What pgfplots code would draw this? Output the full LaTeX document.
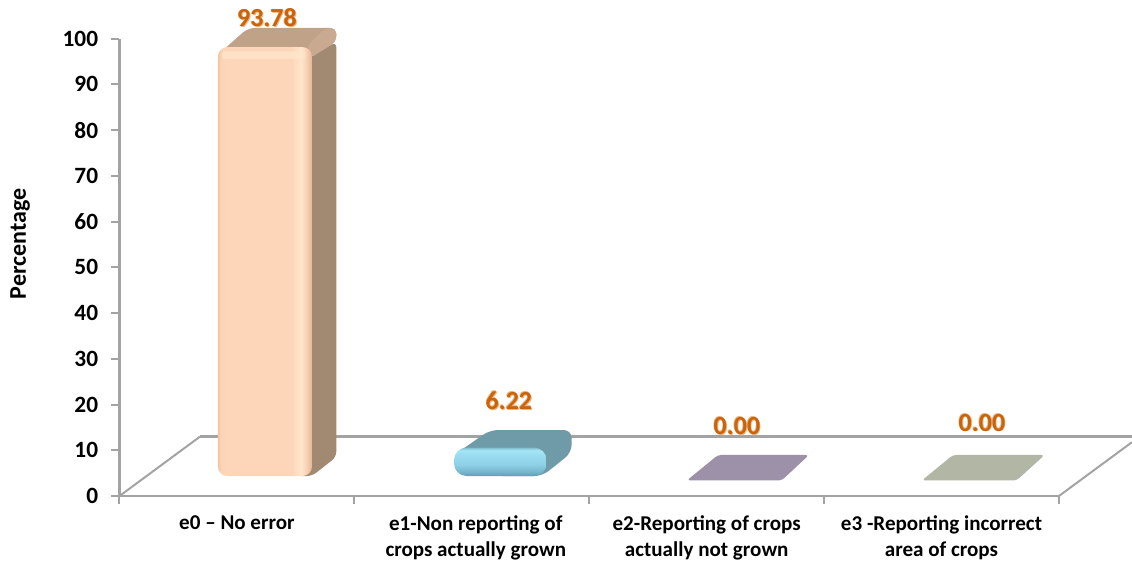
\documentclass[border=0pt]{standalone}
\usepackage{fontspec}
\setmainfont{Carlito}
\usepackage{pgfplots}
\pgfplotsset{compat=1.18}
\definecolor{axgrey}{HTML}{A3A3A3}
\definecolor{lab}{HTML}{C9640C}
\definecolor{glowc}{HTML}{EDB37C}
\definecolor{pa}{HTML}{F2C5A6}
\definecolor{pb}{HTML}{FBD3B5}
\definecolor{pc}{HTML}{FDD5B8}
\definecolor{pd}{HTML}{FFE6CC}
\definecolor{pe}{HTML}{F9D2B4}
\definecolor{pf}{HTML}{E3B696}
\definecolor{sa}{HTML}{5F9DB4}
\definecolor{sb}{HTML}{74B5CC}
\definecolor{sc}{HTML}{8ED0E6}
\definecolor{sd}{HTML}{9ADCF0}
\definecolor{se}{HTML}{A6E6F6}
\definecolor{sf}{HTML}{7FBCD0}
\definecolor{topA}{HTML}{C0A288}
\definecolor{topB}{HTML}{C9AA90}
\definecolor{sideA}{HTML}{A28A72}
\definecolor{tealA}{HTML}{6F9AA7}
\definecolor{purp}{HTML}{9C91A8}
\definecolor{sage}{HTML}{B2B6A5}
\pgfdeclarehorizontalshading{peach}{100bp}{
  color(0bp)=(pa); color(25bp)=(pa); color(26.5bp)=(pb); color(29bp)=(pc); color(64bp)=(pc);
  color(69bp)=(pd); color(72bp)=(pe); color(75bp)=(pf); color(100bp)=(pf)}
\pgfdeclareverticalshading{sky}{100bp}{
  color(0bp)=(sa); color(25bp)=(sa); color(32bp)=(sb); color(45bp)=(sc); color(62bp)=(sd); color(70bp)=(se); color(75bp)=(sf); color(100bp)=(sf)}
\newcommand\vlab[1]{\rlap{\kern.7pt\raisebox{-.6pt}{\textcolor{glowc}{#1}}}\rlap{\kern-.5pt\raisebox{.4pt}{\textcolor{glowc}{#1}}}\textcolor{lab}{#1}}
\begin{document}
\begin{tikzpicture}
\path[use as bounding box] (-89.625pt,-49.5pt) rectangle (759.375pt,372pt);
\begin{axis}[
  at={(0pt,0pt)}, anchor=origin,
  scale only axis, width=704.6pt, height=343pt,
  xmin=0, xmax=4, ymin=0, ymax=100,
  clip=false,
  axis x line*=bottom, axis y line*=left,
  axis line style={axgrey, line width=2pt, -},
  tick style={axgrey, line width=1.5pt},
  tick align=outside,
  major tick length=6pt,
  xtick={0,1,2,3,4}, xticklabels={},
  extra x ticks={0.5,1.517,2.5,3.5},
  extra x tick labels={{e0 – No error},{e1-Non reporting of\\crops actually grown},{e2-Reporting of crops\\actually not grown},{e3 -Reporting incorrect\\area of crops}},
  extra x tick style={major tick length=0pt, tick style={draw=none},
    xticklabel style={align=center, anchor=north, yshift=-11.5pt,
      font=\bfseries\fontsize{15.8}{19.5}\selectfont}},
  ytick={0,10,...,100},
  /pgf/number format/assume math mode=true,
  yticklabel style={font=\bfseries\fontsize{17.5}{18}\selectfont, xshift=-6.5pt},
  ylabel={Percentage},
  every axis y label/.style={at={(axis description cs:-0.1059,0.551)}, rotate=90, anchor=center, font=\bfseries\fontsize{18}{20}\selectfont},
]
% floor
\addplot[axgrey, line width=1.5pt, forget plot] coordinates {(0,0) (0.3427,12.98)};
\addplot[axgrey, line width=2pt, forget plot] coordinates {(0.3427,12.98) (4.3103,12.98)};
\addplot[axgrey, line width=1.5pt, forget plot] coordinates {(4,0) (4.3103,11.75)};
% bar e0: top and side faces
\addplot[draw=none, rounded corners=5pt, forget plot, fill=topA] coordinates {(0.4364,97.3) (0.5471,102.34) (0.923,102.34) (0.923,99.3) (0.8196,96.0) (0.75,96.0)} -- cycle;
\addplot[draw=none, rounded corners=4pt, forget plot, fill=topB] coordinates {(0.7960,98.25) (0.8770,102.34) (0.923,102.34) (0.923,99.3) (0.8196,96.0)} -- cycle;
\addplot[draw=none, rounded corners=4pt, forget plot, fill=sideA] coordinates {(0.8196,96.0) (0.923,99.3) (0.923,8.53) (0.8196,4.37) (0.75,4.37) (0.75,96.0)} -- cycle;
% bar e0: front
\addplot[ybar, bar width=70.5pt, bar shift=21pt, yshift=15pt, draw=none, rounded corners=7pt, shading=peach, forget plot] coordinates {(0.5,93.78)};
\addplot[draw=none, rounded corners=1pt, forget plot, fill=pd, fill opacity=.75] coordinates {(0.4364,97.2) (0.7900,97.2) (0.7900,95.6) (0.4364,95.6)} -- cycle;
% bar e1
\addplot[draw=none, rounded corners=6pt, forget plot, fill=tealA] coordinates {(1.44,9.5) (1.5773,14.43) (1.9252,14.43) (1.9252,9.5) (1.80,4.37) (1.60,4.37) (1.60,9.5)} -- cycle;
\addplot[ybar, bar width=69.5pt, bar shift=21.4pt, yshift=15pt, draw=none, rounded corners=9.5pt, shading=sky, forget plot] coordinates {(1.5,6.22)};
% bars e2, e3 (zero height)
\addplot[draw=none, rounded corners=2.5pt, forget plot, fill=purp] coordinates {(2.4158,3.4) (2.5481,8.97) (2.9358,8.97) (2.8193,3.4)} -- cycle;
\addplot[draw=none, rounded corners=2.5pt, forget plot, fill=sage] coordinates {(3.4164,3.4) (3.5487,8.97) (3.9388,8.97) (3.8198,3.4)} -- cycle;
% value labels
\node[font=\bfseries\fontsize{19.5}{20}\selectfont] at (axis cs:0.628,104.5) {\vlab{93.78}};
\node[font=\bfseries\fontsize{19.5}{20}\selectfont] at (axis cs:1.658,20.8) {\vlab{6.22}};
\node[font=\bfseries\fontsize{19.5}{20}\selectfont] at (axis cs:2.629,15.3) {\vlab{0.00}};
\node[font=\bfseries\fontsize{19.5}{20}\selectfont] at (axis cs:3.672,16.0) {\vlab{0.00}};
\end{axis}
\end{tikzpicture}
\end{document}
